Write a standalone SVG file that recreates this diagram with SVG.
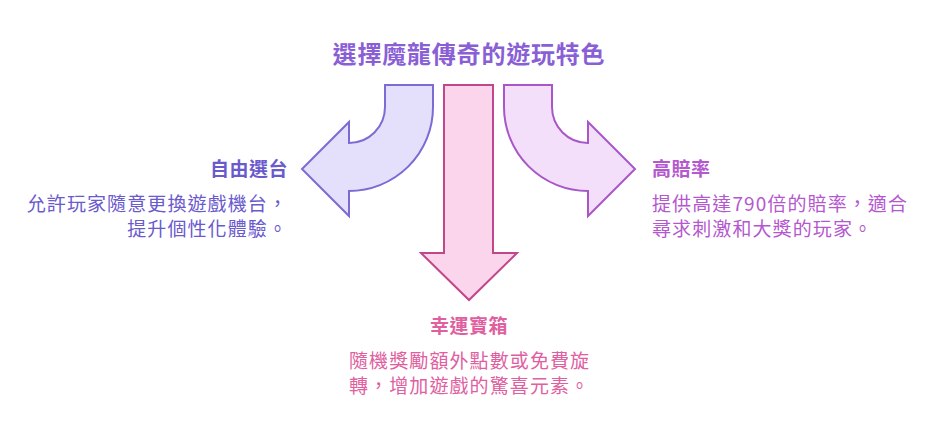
<svg xmlns="http://www.w3.org/2000/svg" width="938" height="446" viewBox="0 0 938 446">
<style>
text{font-family:"Noto Sans CJK TC","Noto Sans",sans-serif}
.t{font-size:24px;font-weight:bold;fill:#8a5fd6;letter-spacing:0.8px}
.h{font-size:19px;font-weight:bold;letter-spacing:0.5px}
.d{font-size:19px;letter-spacing:1.1px}
.arr{stroke-width:2;stroke-linejoin:miter}
</style>
<rect width="938" height="446" fill="#fff"/>
<text class="t" x="469" y="63" text-anchor="middle">選擇魔龍傳奇的遊玩特色</text>
<g id="connectors">
<path class="arr" fill="#e4e0fb" stroke="#7a6cd4" d="M385,85 H433 V107 A84,84 0 0 1 349,191 V216 L302,169 L349,122 V143 A36,36 0 0 0 385,107 Z"/>
<path class="arr" fill="#fbd5ec" stroke="#c2468a" d="M444,85 H493 V253 H517 L469,300 L421,253 H444 Z"/>
<path class="arr" fill="#f3dffa" stroke="#a857c8" d="M552,85 H504 V107 A84,84 0 0 0 588,191 V216 L635,169 L588,122 V143 A36,36 0 0 1 552,107 Z"/>
</g>
<g id="left">
<text class="h" x="288" y="176" text-anchor="end" fill="#6a5acd">自由選台</text>
<text class="d" x="288" y="211" text-anchor="end" fill="#6a5acd">允許玩家隨意更換遊戲機台，</text>
<text class="d" x="288" y="236" text-anchor="end" fill="#6a5acd">提升個性化體驗。</text>
</g>
<g id="right">
<text class="h" x="652" y="176" fill="#b558cf">高賠率</text>
<text class="d" x="652" y="211" fill="#b558cf">提供高達790倍的賠率，適合</text>
<text class="d" x="652" y="236" fill="#b558cf">尋求刺激和大獎的玩家。</text>
</g>
<g id="bottom">
<text class="h" x="469" y="333" text-anchor="middle" fill="#e0609f">幸運寶箱</text>
<text class="d" x="349" y="368" fill="#e0609f">隨機獎勵額外點數或免費旋</text>
<text class="d" x="349" y="393" fill="#e0609f">轉，增加遊戲的驚喜元素。</text>
</g>
</svg>
